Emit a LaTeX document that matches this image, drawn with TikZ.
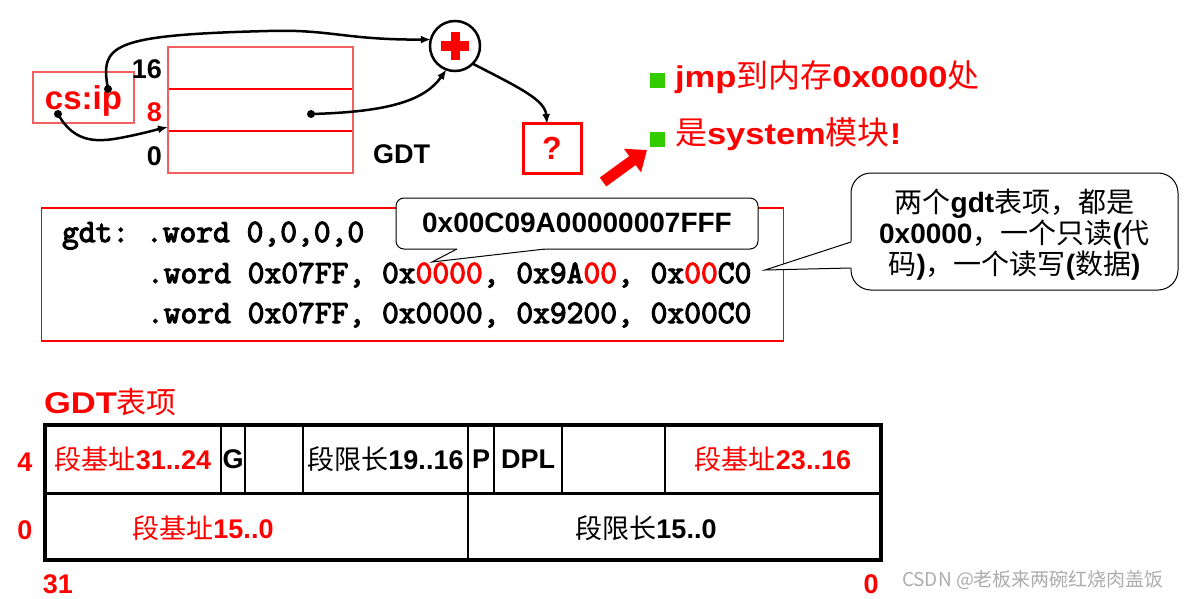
\documentclass[tikz,border=0pt]{standalone}
\usepackage{fontspec}
\setmainfont{Liberation Sans}
\newfontfamily\cjk{Noto Sans CJK SC}
\newfontfamily\mono{Latin Modern Mono}[FakeBold=3.5]
\newfontfamily\wide{Liberation Sans}[FakeStretch=1.15]
\usetikzlibrary{arrows.meta}
\definecolor{lred}{RGB}{242,96,96}
\definecolor{bgreen}{RGB}{51,204,0}
\newcommand\C[1]{{\cjk #1}}
\newcommand\B[1]{{\bfseries #1}}
\newcommand\W[1]{{\wide\bfseries #1}}
\newcommand\fs[1]{\fontsize{#1}{#1}\selectfont}
\begin{document}
\frenchspacing
\begin{tikzpicture}[x=1pt,y=-1pt,
  every node/.style={inner sep=0pt,outer sep=0pt},
  conn/.style={line width=2.5pt,-{Latex[length=10pt,width=8pt]}},
  dotnode/.style={circle,fill=black,minimum size=8pt},
  rowbox/.style={draw=red,line width=1.2pt,minimum width=185pt,minimum height=42pt},
  cell/.style={draw=black,line width=2pt,minimum height=68pt,font=\fs{27}},
  cellb/.style={draw=black,line width=2pt,minimum height=67pt},
  lbl/.style={font=\bfseries\fs{27}},
  codeline/.style={anchor=base west,font=\mono\fs{32.6}\frenchspacing},
  ctext/.style={anchor=base,font=\fs{28}}]
\useasboundingbox (0,0) rectangle (1188,599);

% ---------- top left: cs:ip and GDT ----------
\node[draw=lred,line width=1.5pt,minimum width=101pt,minimum height=51pt] (csip) at (83.5,97.5) {};
\node[anchor=base,text=red,font=\bfseries\fs{33}] (csipt) at (83.5,110) {cs:ip};

\node[rowbox] (r16) at (260.5,68) {};
\node[rowbox] (r8) at (260.5,110) {};
\node[rowbox] (r0) at (260.5,152) {};
\draw[lred,line width=1.5pt] (r16.north west) rectangle (r0.south east);

\node[lbl,anchor=base east] (l16) at (162,79) {16};
\node[lbl,anchor=base east,text=red] (l8) at (162,122) {8};
\node[lbl,anchor=base east] (l0) at (162,165) {0};
\node[lbl,anchor=base west] (gdtl) at (373,163) {GDT};

\node[circle,draw=black,line width=2.5pt,minimum size=50pt,fill=white] (plus) at (455,46) {};
\fill[red] ([shift={(-14,-5)}]plus.center) rectangle ([shift={(14,5)}]plus.center);
\fill[red] ([shift={(-4.5,-14)}]plus.center) rectangle ([shift={(4.5,14)}]plus.center);

\node[draw=red,line width=3pt,minimum width=58pt,minimum height=49pt,text=red,font=\bfseries\fs{32}] (qbox) at (552,148.5) {?};

\node[dotnode] (d1) at (108,89) {};
\node[dotnode] (d2) at (58,114) {};
\node[dotnode] (d3) at (311,114) {};

\draw[conn] (d1.center) .. controls (100,45) and (110,35) .. (268,31) .. controls (330,29) and (345,40) .. (plus.165);
\draw[conn] (d2.center) .. controls (75,145) and (100,142) .. (125,137) .. controls (145,133) and (155,130) .. ([yshift=4pt]r8.south west);
\draw[conn] (d3.center) .. controls (390,112) and (425,100) .. (plus.250);
\draw[conn] (plus.-45) .. controls (520,88) and (545,100) .. ([xshift=-5pt]qbox.north);

% ---------- bullets ----------
\node[fill=bgreen,minimum size=15pt] (b1) at (657,80.5) {};
\node[fill=bgreen,minimum size=15pt] (b2) at (657,139.5) {};
\node[anchor=base west,text=red,font=\fs{30}] (t1) at (675,88) {\W{jmp}{\fs{32}\C{到内存}}\W{0x0000}{\fs{32}\C{处}}};
\node[anchor=base west,text=red,font=\fs{30}] (t2) at (675,145) {{\fs{32}\C{是}}\W{system}{\fs{32}\C{模块}}\W{!}};

\coordinate (ra1) at (603,182);
\coordinate (ra2) at (647,150);
\draw[red,line width=11pt,-{Triangle[length=18pt,width=28pt]}] (ra1) -- (ra2);

% ---------- code box ----------
\node[draw=red,line width=1.2pt,minimum width=742pt,minimum height=133pt] (code) at (412.5,274.5) {};
\node[codeline] (cl1) at (62,242) {gdt: .word 0,0,0,0};
\node[codeline] (cl2) at (147,283) {.word 0x07FF, 0x{\color{red}0000}, 0x9A{\color{red}00}, 0x{\color{red}00}C0};
\node[codeline] (cl3) at (147,323) {.word 0x07FF, 0x0000, 0x9200, 0x00C0};

% callout 1
\node[draw=black,fill=white,line width=1pt,rounded corners=8pt,minimum width=362pt,minimum height=51pt] (c1) at (577,223.5) {};
\fill[white] (456,247.5) -- (546,247.5) -- (545,249) -- (432,262) -- (457,249) -- cycle;
\draw[line width=1pt] (457,249) -- (432,262) -- (545,249);
\node[ctext] (c1t) at (577,232) {\B{0x00C09A00000007FFF}};

% callout 2
\node[draw=black,fill=white,line width=1pt,rounded corners=20pt,minimum width=327pt,minimum height=117pt] (c2) at (1014.5,231.5) {};
\fill[white] (852.5,241) -- (852.5,269) -- (851,268) -- (765,270) -- (851,242) -- cycle;
\draw[line width=1pt] (851,242) -- (765,270) -- (851,268);
\node[ctext] (c2a) at (1014.5,212) {\C{两个}\B{gdt}\C{表项，都是}};
\node[ctext] (c2b) at (1014.5,243) {\B{0x0000}\C{，一个只读}\B{(}\C{代}};
\node[ctext] (c2c) at (1014.5,274) {\C{码}\B{)}\C{，一个读写}\B{(}\C{数据}\B{)}};

% ---------- GDT entry ----------
\node[anchor=base west,text=red,font=\fs{30}] (gtitle) at (44,413) {\W{GDT}\C{表项}};

\node[cell,minimum width=176pt,text=red] (e1) at (133,459) {\C{段基址}\B{31..24}};
\node[cell,minimum width=24pt] (e2) at (233,459) {\B{G}};
\node[cell,minimum width=58pt] (e3) at (274,459) {};
\node[cell,minimum width=165pt] (e4) at (385.5,459) {\C{段限长}\B{19..16}};
\node[cell,minimum width=26pt] (e5) at (481,459) {\B{P}};
\node[cell,minimum width=68pt] (e6) at (528,459) {\B{DPL}};
\node[cell,minimum width=103pt] (e7) at (613.5,459) {};
\node[cell,minimum width=216pt,text=red] (e8) at (773,459) {\C{段基址}\B{23..16}};
\node[cellb,minimum width=423pt] (f1) at (256.5,526.5) {};
\node[cellb,minimum width=413pt] (f2) at (674.5,526.5) {};
\draw[line width=3.5pt] (e1.north west) rectangle (f2.south east);
\draw[line width=3pt] (f1.north west) -- (f2.north east);
\node[anchor=base,text=red,font=\fs{27}] (f1t) at (203,538) {\C{段基址}\B{15..0}};
\node[anchor=base,font=\fs{27}] (f2t) at (646,538) {\C{段限长}\B{15..0}};

\node[lbl,anchor=base,text=red] (n4) at (25,471) {4};
\node[lbl,anchor=base,text=red] (n0) at (25,539) {0};
\node[lbl,anchor=base,text=red] (n31) at (58,593) {31};
\node[lbl,anchor=base,text=red] (n00) at (871,593) {0};

\node[anchor=base west,text=gray!65,font=\cjk\fs{19}] (wm) at (902,586) {CSDN @老板来两碗红烧肉盖饭};
\end{tikzpicture}
\end{document}
